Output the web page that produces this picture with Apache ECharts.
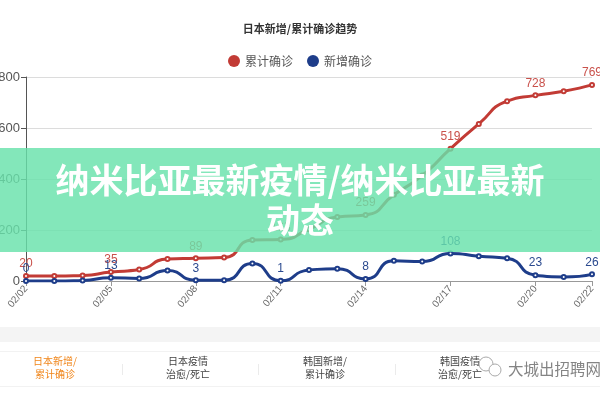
<!DOCTYPE html>
<html>
<head>
<meta charset="utf-8">
<script src="https://cdn.jsdelivr.net/npm/echarts@6/dist/echarts.min.js"></script>
<style>
html,body{margin:0;padding:0;background:#fff;}
#c{width:600px;height:400px;}
</style>
</head>
<body>
<div id="c"></div>
<script>
var dates = ['02/02','02/03','02/04','02/05','02/06','02/07','02/08','02/09','02/10','02/11','02/12','02/13','02/14','02/15','02/16','02/17','02/18','02/19','02/20','02/21','02/22'];
var cumulative = [20,20,22,35,45,86,89,92,161,163,203,251,259,338,414,519,616,705,728,744,769];
var newCases = [0,0,2,13,10,41,3,3,69,1,43,48,8,79,76,108,97,89,23,16,26];
var yTicks = [0,200,400,600,800];
var tabs = [['日本新增/','累计确诊'],['日本疫情','治愈/死亡'],['韩国新增/','累计确诊'],['韩国疫情','治愈/死亡']];

var FONT = '"Noto Sans CJK SC", "Noto Sans", sans-serif';
var last = dates.length - 1;
function shown(i){ return i % 3 === 0 || i === last; }
function mk(arr){
  return arr.map(function(v,i){ return {value:v, label:{show:shown(i)}}; });
}

var chart = echarts.init(document.getElementById('c'));
var graphics = [
  {type:'rect', shape:{x:0,y:327,width:600,height:15}, style:{fill:'#f4f4f4'}, z:10},
  {type:'rect', shape:{x:0,y:351,width:600,height:0.5}, style:{fill:'#e6e6e6'}, z:10},
  {type:'rect', shape:{x:0,y:386,width:600,height:0.5}, style:{fill:'#e6e6e6'}, z:10},
  {type:'rect', shape:{x:0,y:148,width:600,height:104}, style:{fill:'rgba(104,226,171,0.82)'}, z:100},
  {type:'text', x:300, y:200, z:101, style:{text:'纳米比亚最新疫情/纳米比亚最新\n动态', fill:'#fff', font:'bold 34px ' + FONT, align:'center', verticalAlign:'middle', lineHeight:40}}
];
var centers = [55,188,325,460];
tabs.forEach(function(t,i){
  graphics.push({type:'text', x:centers[i], y:368, z:11, style:{text:t[0]+'\n'+t[1], fill: i===0 ? '#f08519' : '#444', font:'10px ' + FONT, align:'center', verticalAlign:'middle', lineHeight:13}});
});
[122,258,395].forEach(function(x){
  graphics.push({type:'rect', shape:{x:x,y:364,width:0.6,height:11}, style:{fill:'#dddddd'}, z:11});
});
graphics.push({type:'circle', shape:{cx:486,cy:364,r:7}, style:{fill:'none', stroke:'#aaa', lineWidth:1}, z:12});
graphics.push({type:'circle', shape:{cx:495,cy:370,r:6}, style:{fill:'#fff', stroke:'#aaa', lineWidth:1}, z:12});
graphics.push({type:'text', x:508, y:369, z:12, style:{text:'大城出招聘网', fill:'rgba(110,110,110,0.85)', font:'15.5px ' + FONT, align:'left', verticalAlign:'middle'}});

chart.setOption({
  animation:false,
  backgroundColor:'#fff',
  title:{text:'日本新增/累计确诊趋势', left:'center', top:18, textStyle:{fontSize:11, fontWeight:'bold', color:'#333', fontFamily:FONT}},
  legend:{top:50, left:'center', icon:'circle', itemWidth:12, itemHeight:12, itemGap:14, textStyle:{fontSize:12, color:'#555', fontFamily:FONT}, data:['累计确诊','新增确诊']},
  grid:{left:26, right:8, top:77, bottom:119, containLabel:false, outerBoundsMode:'none'},
  xAxis:{type:'category', boundaryGap:false, data:dates,
    axisLine:{lineStyle:{color:'#999'}},
    axisTick:{show:true, interval:function(i){return shown(i);}, lineStyle:{color:'#999'}},
    axisLabel:{rotate:50, fontSize:10, color:'#666', interval:function(i){return shown(i);}, fontFamily:'"Liberation Sans", Arial, sans-serif', margin:6}},
  yAxis:{type:'value', min:yTicks[0], max:yTicks[yTicks.length-1], interval:200,
    axisLine:{show:true, lineStyle:{color:'#555'}},
    axisTick:{show:true, lineStyle:{color:'#555'}},
    axisLabel:{fontSize:13, color:'#555', margin:6, fontFamily:'"Liberation Sans", Arial, sans-serif'},
    splitLine:{lineStyle:{color:'#dcdcdc'}}},
  series:[
    {name:'累计确诊', type:'line', smooth:0.6, data:mk(cumulative), color:'#c23b35',
      lineStyle:{width:3, color:'#c23b35'}, symbol:'emptyCircle', symbolSize:4, showAllSymbol:true,
      itemStyle:{color:'#c23b35', borderColor:'#c23b35'},
      label:{position:'top', fontSize:12, color:'#c9514b', distance:3}},
    {name:'新增确诊', type:'line', smooth:0.6, data:mk(newCases), color:'#1e3d8a',
      lineStyle:{width:3, color:'#1e3d8a'}, symbol:'emptyCircle', symbolSize:4, showAllSymbol:true,
      itemStyle:{color:'#1e3d8a', borderColor:'#1e3d8a'},
      label:{position:'top', fontSize:12, color:'#2b4a8f', distance:3}}
  ],
  graphic:graphics
});
</script>
</body>
</html>
